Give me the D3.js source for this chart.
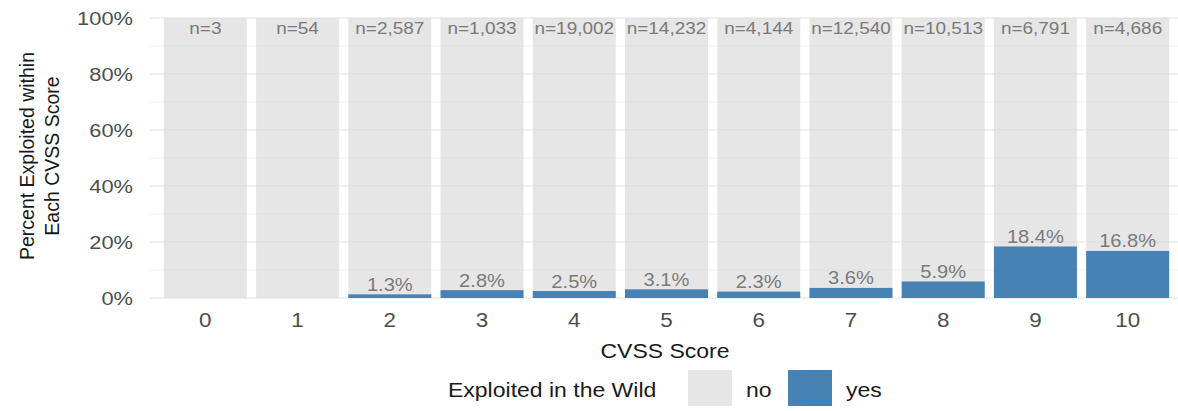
<!DOCTYPE html>
<html><head><meta charset="utf-8">
<script src="https://cdn.jsdelivr.net/npm/d3@7"></script>
<style>body{margin:0;background:#fff;} text{font-family:"Liberation Sans",Arial,sans-serif;}</style>
</head><body>
<svg id="c" width="1178" height="411"></svg>
<script>
const scores = ["0","1","2","3","4","5","6","7","8","9","10"];
const counts = [3,54,2587,1033,19002,14232,4144,12540,10513,6791,4686];
const exploitedPct = [0,0,1.3,2.8,2.5,3.1,2.3,3.6,5.9,18.4,16.8];
const yTicks = [0,20,40,60,80,100];
const yMinor = [10,30,50,70,90];
const legendKeys = ["no","yes"];
const colors = {no:"#d6d6d6", yes:"#4682b4"};
const SX = 1.15;

const svg = d3.select("#c");
const x = d3.scaleBand().domain(scores).range([150,1183]).paddingInner(0.1).paddingOuter(0.15);
const y = d3.scaleLinear().domain([0,100]).range([298,18]);

function txt(parent, px, py, s, size, fill, anchor){
  return parent.append("text").attr("transform",`translate(${px},${py}) scale(${SX},1)`)
    .attr("text-anchor",anchor||"start").attr("font-size",size).attr("fill",fill).text(s);
}

// grid
const g = svg.append("g");
g.selectAll("line.minor").data(yMinor).join("line")
 .attr("x1",150).attr("x2",1178).attr("y1",d=>y(d)).attr("y2",d=>y(d))
 .attr("stroke","#efefef").attr("stroke-width",0.8);
g.selectAll("line.major").data(yTicks).join("line")
 .attr("x1",150).attr("x2",1178).attr("y1",d=>y(d)).attr("y2",d=>y(d))
 .attr("stroke","#e2e2e2").attr("stroke-width",1.2);

// background "no" bars (full height)
svg.append("g").selectAll("rect").data(scores).join("rect")
 .attr("x",d=>x(d)).attr("width",x.bandwidth())
 .attr("y",y(100)).attr("height",y(0)-y(100))
 .attr("fill",colors.no).attr("fill-opacity",0.6);

// yes bars
const yesScores = scores.filter((d,i)=>exploitedPct[i]>0);
const pctOf = d=>exploitedPct[scores.indexOf(d)];
svg.append("g").selectAll("rect").data(yesScores).join("rect")
 .attr("x",d=>x(d)).attr("width",x.bandwidth())
 .attr("y",d=>y(pctOf(d)))
 .attr("height",d=>y(0)-y(pctOf(d)))
 .attr("fill",colors.yes);

// pct labels
const pl = svg.append("g");
yesScores.forEach(d=>txt(pl, x(d)+x.bandwidth()/2, y(pctOf(d))-3.5, pctOf(d).toFixed(1)+"%", 17.5, "#7a7a7a", "middle"));

// n labels
const fmt = d3.format(",");
const nl = svg.append("g");
scores.forEach((d,i)=>txt(nl, x(d)+x.bandwidth()/2, 34, "n="+fmt(counts[i]), 16.5, "#7a7a7a", "middle"));

// y axis
const ya = svg.append("g").attr("transform","translate(150,0)")
 .call(d3.axisLeft(y).tickValues(yTicks).tickFormat(d=>d+"%").tickSize(0).tickPadding(0));
ya.select(".domain").remove();
ya.selectAll("text").attr("font-size",19).attr("fill","#4d4d4d")
 .attr("font-family","Liberation Sans, Arial, sans-serif")
 .attr("x",0).attr("transform",`translate(-17,0) scale(${SX},1)`);

// x axis
const xa = svg.append("g").attr("transform","translate(0,298)")
 .call(d3.axisBottom(x).tickSize(0).tickPadding(15));
xa.select(".domain").remove();
xa.selectAll("text").attr("font-size",19.5).attr("fill","#4d4d4d")
 .attr("font-family","Liberation Sans, Arial, sans-serif")
 .attr("transform",`scale(${SX},1)`);

// axis titles
txt(svg, 665, 358, "CVSS Score", 20, "#1a1a1a", "middle");
const yt = svg.append("text").attr("transform","translate(0,156) rotate(-90)")
 .attr("text-anchor","middle").attr("font-size",19.5).attr("fill","#1a1a1a");
yt.append("tspan").attr("x",0).attr("y",34).text("Percent Exploited within");
yt.append("tspan").attr("x",0).attr("y",59).text("Each CVSS Score");

// legend
txt(svg, 448, 397, "Exploited in the Wild", 20, "#1a1a1a");
const lx = {no:688, yes:788};
svg.append("g").selectAll("rect").data(legendKeys).join("rect")
 .attr("x",d=>lx[d]).attr("y",370).attr("width",44).attr("height",36)
 .attr("fill",d=>colors[d]).attr("fill-opacity",d=>d==="no"?0.6:1);
const lg = svg.append("g");
legendKeys.forEach(d=>txt(lg, lx[d]+58, 397, d, 20, "#1a1a1a"));
</script>
</body></html>
